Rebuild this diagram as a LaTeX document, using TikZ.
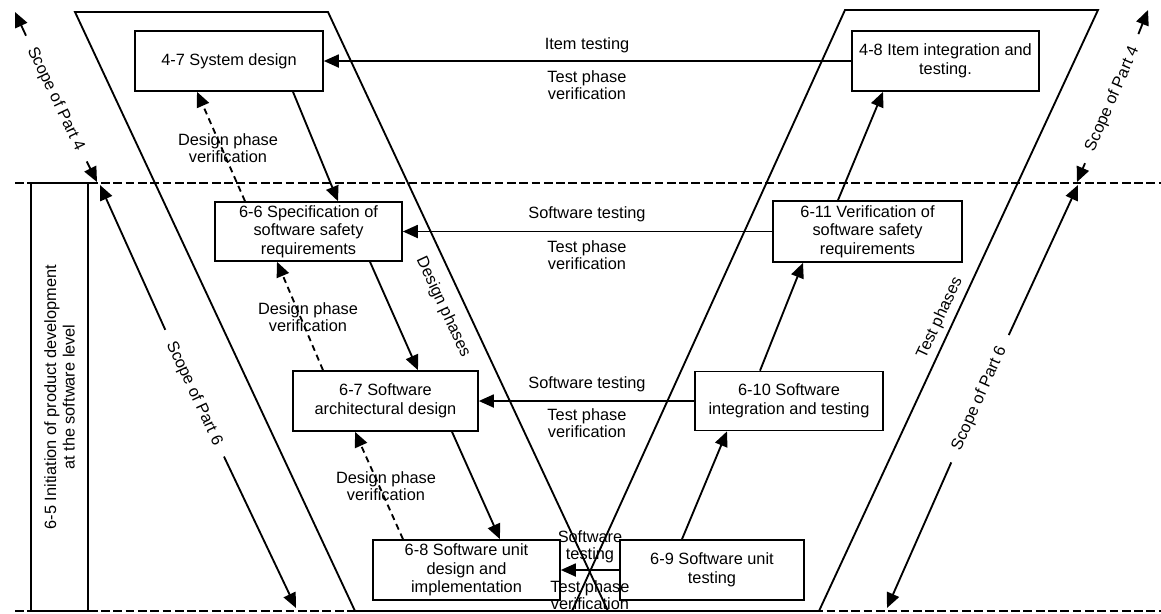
\documentclass[tikz,border=0pt]{standalone}
\usepackage{fontspec}
\setmainfont{Liberation Sans}
\usetikzlibrary{arrows.meta,calc}
\begin{document}
\begin{tikzpicture}[x=0.02cm,y=-0.02cm,
  lbl/.style={font=\fontsize{9.3}{9.8}\selectfont, align=center, inner sep=1pt},
  box/.style={draw, line width=0.95pt, font=\fontsize{9.3}{10.6}\selectfont,
    align=center, inner sep=1pt},
  frame/.style={line width=1.05pt, line join=miter},
  phase/.style={line width=0.85pt, dash pattern=on 5pt off 2pt},
  arr/.style={line width=1.05pt, -{Triangle[length=3mm,width=2.6mm]}},
  ver/.style={arr, dash pattern=on 3.5pt off 2.5pt},
  scope/.style={lbl, inner xsep=7.5pt, inner ysep=1pt},
]
\useasboundingbox (0,0) rectangle (1161,613);

% phase boundaries
\draw[phase] (15,183) -- (1161,183);
\draw[phase] (15,611) -- (1161,611);

% design and test parallelograms
\draw[frame] (75,12) -- (328,12) -- (608,611) -- (355,611) -- cycle;
\draw[frame] (845,10) -- (1098,10) -- (819,611) -- (572,611) -- cycle;
\node[lbl, rotate=-65] (dp) at (443,307) {Design phases};
\node[lbl, rotate=65] (tp) at (940,318) {Test phases};

% work products
\node[box, minimum width=3.76cm, minimum height=1.2cm] (b47) at (229,61) {4-7 System design};
\node[box, minimum width=3.74cm, minimum height=1.2cm] (b48) at (945.5,61) {4-8 Item integration and\\testing.};
\node[box, minimum width=3.74cm, minimum height=1.18cm] (b66) at (308.5,231.5) {6-6 Specification of\\software safety\\requirements};
\node[box, minimum width=3.78cm, minimum height=1.22cm] (b611) at (867.5,231.5) {6-11 Verification of\\software safety\\requirements};
\node[box, minimum width=3.7cm, minimum height=1.2cm] (b67) at (385.5,401) {6-7 Software\\architectural design};
\node[box, minimum width=3.76cm, minimum height=1.18cm] (b610) at (789,401) {6-10 Software\\integration and testing};
\node[box, minimum width=3.74cm, minimum height=1.2cm] (b68) at (466.5,570) {6-8 Software unit\\design and\\implementation};
\node[box, minimum width=3.68cm, minimum height=1.2cm] (b69) at (712,570) {6-9 Software unit\\testing};
\node[box, rotate=90, minimum width=8.56cm, minimum height=1.14cm] (b65) at (59.5,397)
  {6-5 Initiation of product development\\at the software level};

% test phase verification
\draw[arr] (b48.west) -- (b47.east);
\node[lbl] (t1a) at (587,45) {Item testing};
\node[lbl] (t1b) at (587,85) {Test phase\\verification};
\draw[arr] (b611.west) -- (b66.east);
\node[lbl] (t2a) at (587,214) {Software testing};
\node[lbl] (t2b) at (587,255) {Test phase\\verification};
\draw[arr] (b610.west) -- (b67.east);
\node[lbl] (t3a) at (587,384) {Software testing};
\node[lbl] (t3b) at (587,423) {Test phase\\verification};
\draw[arr] (b69.west) -- (b68.east);
\node[lbl] (t4a) at (590,547) {Software\\testing};
\node[lbl] (t4b) at (590,595) {Test phase\\verification};

% design flow
\draw[arr] ($(b47.south)+(64,0)$) -- ($(b66.north)+(29.5,0)$);
\draw[arr] ($(b66.south)+(61.5,0)$) -- ($(b67.north)+(32.5,0)$);
\draw[arr] ($(b67.south)+(66.5,0)$) -- ($(b68.north)+(33.5,0)$);

% test flow
\draw[arr] ($(b69.north)+(-30,0)$) -- ($(b610.south)+(-62,0)$);
\draw[arr] ($(b610.north)+(-29,0)$) -- ($(b611.south)+(-64.5,0)$);
\draw[arr] ($(b611.north)+(-29.5,0)$) -- ($(b48.south)+(-62.5,0)$);

% design phase verification
\draw[ver] ($(b66.north)+(-63.5,0)$) -- ($(b47.south)+(-32,0)$);
\node[lbl] (d1) at (228,148) {Design phase\\verification};
\draw[ver] ($(b67.north)+(-62.5,0)$) -- ($(b66.south)+(-31.5,0)$);
\node[lbl] (d2) at (308,317) {Design phase\\verification};
\draw[ver] ($(b68.north)+(-63.5,0)$) -- ($(b67.south)+(-30.5,0)$);
\node[lbl] (d3) at (386,486) {Design phase\\verification};

% scopes of the parts
\coordinate (l4top) at (15,12);
\coordinate (l4bot) at (97,182);
\coordinate (l6top) at (100,185);
\coordinate (l6bot) at (296,608);
\coordinate (r4top) at (1148,10);
\coordinate (r4bot) at (1077,182);
\coordinate (r6top) at (1078,185);
\coordinate (r6bot) at (887,608);
\node[scope, rotate=-64.4] (sl4) at (55.5,99) {Scope of Part 4};
\node[scope, rotate=-65.1] (sl6) at (194,393.5) {Scope of Part 6};
\node[scope, rotate=66.5] (sr4) at (1112.5,99) {Scope of Part 4};
\node[scope, rotate=65.9] (sr6) at (979.5,398.5) {Scope of Part 6};
\draw[arr] (sl4) -- (l4top);
\draw[arr] (sl4) -- (l4bot);
\draw[arr] (sl6) -- (l6top);
\draw[arr] (sl6) -- (l6bot);
\draw[arr] (sr4) -- (r4top);
\draw[arr] (sr4) -- (r4bot);
\draw[arr] (sr6) -- (r6top);
\draw[arr] (sr6) -- (r6bot);
\end{tikzpicture}
\end{document}
